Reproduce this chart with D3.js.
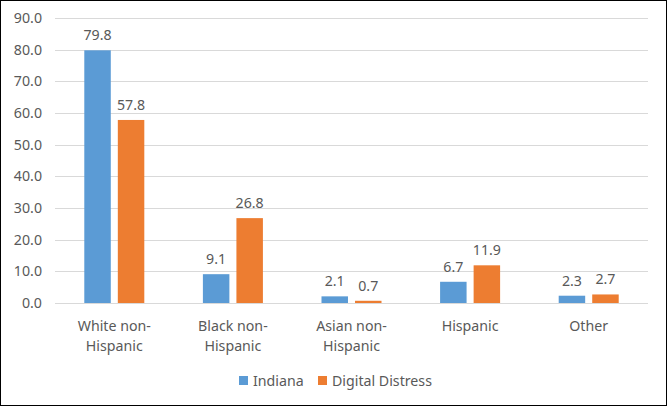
<!DOCTYPE html>
<html>
<head>
<meta charset="utf-8">
<script src="https://cdn.jsdelivr.net/npm/d3@7"></script>
<style>
  body { margin: 0; background: #fff; }
  text { font-family: "Noto Sans", "Open Sans", sans-serif; fill: #595959; }
</style>
</head>
<body>
<div id="root"></div>
<script>
// chart data
var categories = [["White non-", "Hispanic"], ["Black non-", "Hispanic"], ["Asian non-", "Hispanic"], ["Hispanic"], ["Other"]];
var seriesNames = ["Indiana", "Digital Distress"];
var indiana = [79.8, 9.1, 2.1, 6.7, 2.3];
var digitalDistress = [57.8, 26.8, 0.7, 11.9, 2.7];
var yTicks = [0, 10, 20, 30, 40, 50, 60, 70, 80, 90];
var colors = ["#5B9BD5", "#ED7D31"];

var W = 667, H = 406;
var plotLeft = 55, plotRight = 648, plotTop = 18, plotBottom = 303;
var fs = "14.2px";

var svg = d3.select("#root").append("svg")
    .attr("width", W).attr("height", H);

svg.append("rect")
    .attr("x", 0.5).attr("y", 0.5)
    .attr("width", W - 1).attr("height", H - 1)
    .attr("fill", "#fff").attr("stroke", "#000").attr("stroke-width", 1);

var y = d3.scaleLinear().domain([0, 90]).range([plotBottom, plotTop]);
var x = d3.scaleBand().domain(d3.range(categories.length))
    .range([plotLeft, plotRight]).paddingInner(0.494).paddingOuter(0.247);
var xs = d3.scaleBand().domain([0, 1]).range([0, x.bandwidth()]).paddingInner(0.21);

// gridlines
svg.append("g").selectAll("line").data(yTicks).join("line")
    .attr("x1", plotLeft).attr("x2", plotRight)
    .attr("y1", function(d) { return Math.round(y(d)) + 0.5; })
    .attr("y2", function(d) { return Math.round(y(d)) + 0.5; })
    .attr("stroke", "#D9D9D9").attr("stroke-width", 1);

// y tick labels
svg.append("g").selectAll("text").data(yTicks).join("text")
    .attr("x", 42)
    .attr("y", function(d) { return y(d) + 5; })
    .attr("text-anchor", "end")
    .attr("font-size", fs)
    .text(function(d) { return d.toFixed(1); });

var series = [indiana, digitalDistress];
series.forEach(function(vals, si) {
  var g = svg.append("g");
  g.selectAll("rect").data(vals).join("rect")
      .attr("x", function(d, i) { return x(i) + xs(si); })
      .attr("y", function(d) { return y(d); })
      .attr("width", xs.bandwidth())
      .attr("height", function(d) { return plotBottom - y(d); })
      .attr("fill", colors[si]);
  g.selectAll("text").data(vals).join("text")
      .attr("x", function(d, i) { return x(i) + xs(si) + xs.bandwidth() / 2; })
      .attr("y", function(d) { return y(d) - 10; })
      .attr("text-anchor", "middle")
      .attr("font-size", fs)
      .text(function(d) { return d.toFixed(1); });
});

// category labels
var cat = svg.append("g").selectAll("text").data(categories).join("text")
    .attr("text-anchor", "middle")
    .attr("font-size", fs)
    .attr("y", 331);
cat.selectAll("tspan").data(function(d, i) { return d.map(function(s) { return { s: s, i: i }; }); })
  .join("tspan")
    .attr("x", function(d) { return x(d.i) + x.bandwidth() / 2; })
    .attr("dy", function(d, j) { return j === 0 ? 0 : 20; })
    .text(function(d) { return d.s; });

// legend
var legendX = [239, 318];
var leg = svg.append("g").selectAll("g").data(seriesNames).join("g")
    .attr("transform", function(d, i) { return "translate(" + legendX[i] + ",376)"; });
leg.append("rect").attr("width", 9).attr("height", 9)
    .attr("fill", function(d, i) { return colors[i]; });
leg.append("text").attr("x", 14).attr("y", 9.5)
    .attr("font-size", fs)
    .text(function(d) { return d; });
</script>
</body>
</html>
